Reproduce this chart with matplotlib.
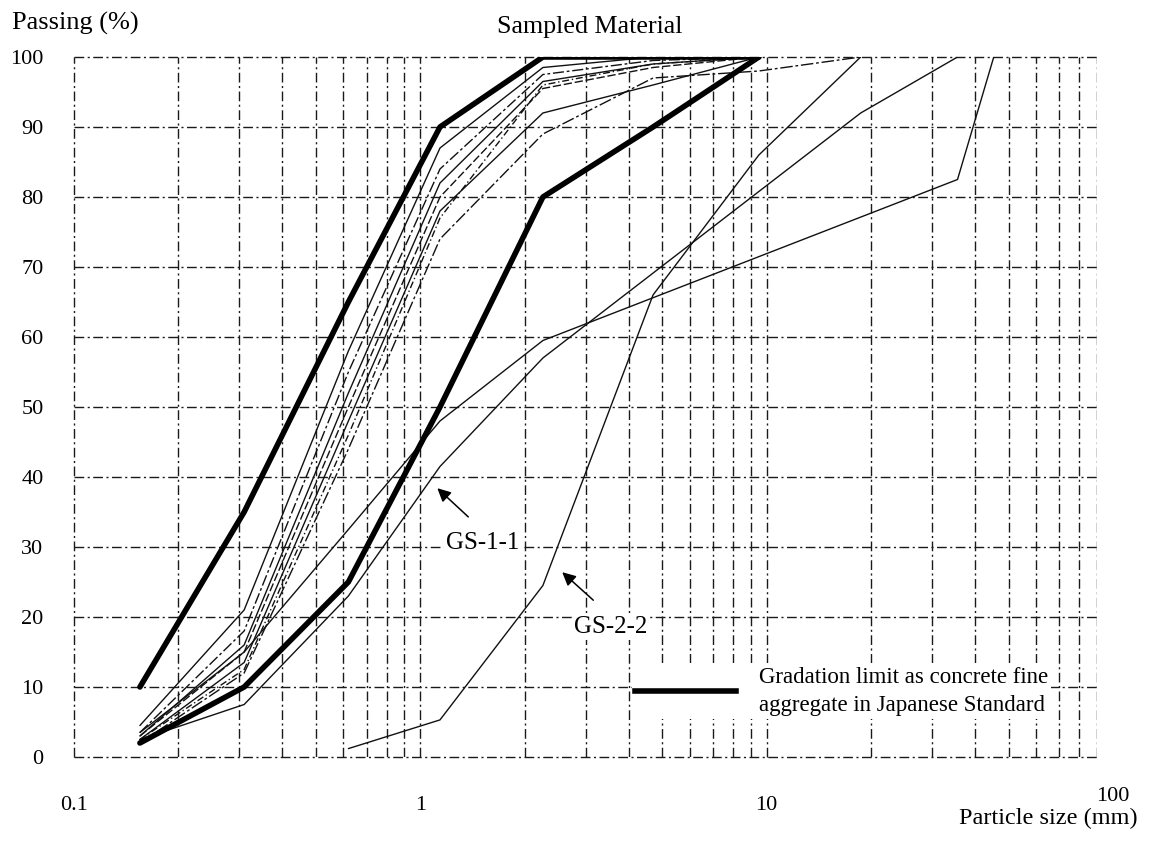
import numpy as np
import matplotlib
matplotlib.use("Agg")
import matplotlib.pyplot as plt
from matplotlib.lines import Line2D
from matplotlib.transforms import blended_transform_factory

nan = np.nan

# ---- data ----
SIEVE_MM = [0.155, 0.31, 0.62, 1.14, 2.26, 4.7, 9.5, 18.7, 35.6, 45.3]

UPPER_LIMIT = [10, 35, 65, 90, 100, 100, 100, nan, nan, nan]
LOWER_LIMIT = [2, 10, 25, 50, 80, 90, 100, nan, nan, nan]

SAMPLE_A = [4.5, 21, 58, 87, 98.5, 100, 100, nan, nan, nan]
SAMPLE_B = [3.5, 18, 55, 84, 97.5, 99.5, 100, nan, nan, nan]
SAMPLE_C = [3.0, 16, 52, 82, 96.5, 99, 100, nan, nan, nan]
SAMPLE_D = [3.0, 15, 50, 80, 95.5, 98.5, 100, nan, nan, nan]
SAMPLE_E = [2.5, 13.5, 48, 78, 92, 96, 100, nan, nan, nan]
SAMPLE_F = [2.5, 12.5, 46, 77, 96, 99, 100, nan, nan, nan]
SAMPLE_G = [2.0, 12, 44, 74, 89, 97, 98, 100, nan, nan]
SAMPLE_H = [3.5, 15, 32.5, 48, 59.5, nan, nan, nan, 82.5, 100]
GS_1_1 = [2.5, 7.5, 23, 41.5, 57, nan, nan, 92, 100, nan]
GS_2_2 = [nan, nan, 1.2, 5.3, 24.5, 66, 86, 100, nan, nan]

Y_TICKS = [0, 10, 20, 30, 40, 50, 60, 70, 80, 90, 100]
X_TICKS = [0.1, 1, 10]
X_TICK_LABELS = ["0.1", "1", "10"]
X_EXTRA_TICK = 100
X_EXTRA_LABEL = "100"

THIN_SERIES = [SAMPLE_A, SAMPLE_B, SAMPLE_C, SAMPLE_D, SAMPLE_E,
               SAMPLE_F, SAMPLE_G, SAMPLE_H, GS_1_1, GS_2_2]
THIN_STYLES = ["-", (0, (8, 2, 2, 2)), "-", (0, (6, 2)), "-",
               (0, (5, 2, 1, 2)), (0, (9, 2, 2, 2)), "-", "-", "-"]
LIMITS = [UPPER_LIMIT, LOWER_LIMIT]

plt.rcParams["font.family"] = ["Liberation Serif", "DejaVu Serif"]

fig = plt.figure(figsize=(11.6, 8.42), dpi=100)
ax = fig.add_axes([74 / 1160, 85 / 842, 1023 / 1160, 700 / 842])
ax.set_xscale("log")
ax.set_xlim(0.1, 90)
ax.set_ylim(0, 100)

for s in ax.spines.values():
    s.set_visible(False)

# grid
ax.set_xticks(X_TICKS)
ax.set_xticklabels(X_TICK_LABELS)
minor = [m * d for d in (0.1, 1, 10) for m in range(2, 10)]
ax.set_xticks(minor, minor=True)
ax.set_xticklabels([], minor=True)
ax.set_yticks(Y_TICKS)
ax.set_yticklabels([str(v) for v in Y_TICKS])
grid_style = dict(color="#1a1a1a", linewidth=1.0, linestyle=(0, (7, 2.5, 1.5, 2.5)))
ax.grid(True, which="both", axis="both", **grid_style)
ax.set_axisbelow(True)
for gl in ax.get_xgridlines() + ax.get_ygridlines():
    gl.set_clip_on(False)
ax.tick_params(which="both", length=0)
ax.tick_params(axis="y", pad=22, labelsize=16)
ax.tick_params(axis="x", pad=28, labelsize=16)
for lbl in ax.get_xticklabels():
    lbl.set_x(lbl.get_position()[0])

x = np.array(SIEVE_MM)


def draw(vals, **kw):
    v = np.array(vals, dtype=float)
    m = ~np.isnan(v)
    ax.plot(x[m], v[m], **kw)


for vals, ls in zip(THIN_SERIES, THIN_STYLES):
    draw(vals, color="#111111", lw=1.0, ls=ls, solid_capstyle="round")

for vals in LIMITS:
    draw(vals, color="black", lw=4.0, solid_capstyle="round", solid_joinstyle="round")

# extra 100 tick label outside the frame
trans = blended_transform_factory(ax.transData, ax.transAxes)
ax.text(X_EXTRA_TICK, -0.057, X_EXTRA_LABEL, transform=trans, ha="center", va="center",
        fontsize=16, clip_on=False)

# annotations
arrow_kw = dict(arrowstyle="-|>", color="black", lw=1.1, mutation_scale=20,
                shrinkA=0, shrinkB=0)
box = dict(facecolor="white", edgecolor="none", pad=1.5)
ax.annotate("", xy=(1.12, 38.4), xytext=(1.376, 34.3), arrowprops=arrow_kw)
ax.text(1.51, 30.6, "GS-1-1", ha="center", va="center", fontsize=18, bbox=box)
ax.annotate("", xy=(2.57, 26.4), xytext=(3.16, 22.4), arrowprops=arrow_kw)
ax.text(3.54, 18.6, "GS-2-2", ha="center", va="center", fontsize=18, bbox=box)

# legend
h = Line2D([], [], color="black", lw=4.0)
leg = ax.legend([h], ["Gradation limit as concrete fine\naggregate in Japanese Standard"],
                loc="center left", bbox_to_anchor=(0.545, 0.094), fontsize=16.5,
                handlelength=4.4, handletextpad=1.0, borderpad=0.15,
                borderaxespad=0, frameon=True, fancybox=False)
for t in leg.get_texts():
    t.set_linespacing(1.45)
leg.get_frame().set_facecolor("white")
leg.get_frame().set_edgecolor("none")
leg.get_frame().set_alpha(1)

# titles
fig.text(12 / 1160, 1 - 23 / 842, "Passing (%)", ha="left", va="center", fontsize=19)
fig.text(590 / 1160, 1 - 27 / 842, "Sampled Material", ha="center", va="center", fontsize=18.7)
fig.text(1138 / 1160, 1 - 818 / 842, "Particle size (mm)", ha="right", va="center", fontsize=17.5)

fig.savefig("out.png", dpi=100, facecolor="white")
